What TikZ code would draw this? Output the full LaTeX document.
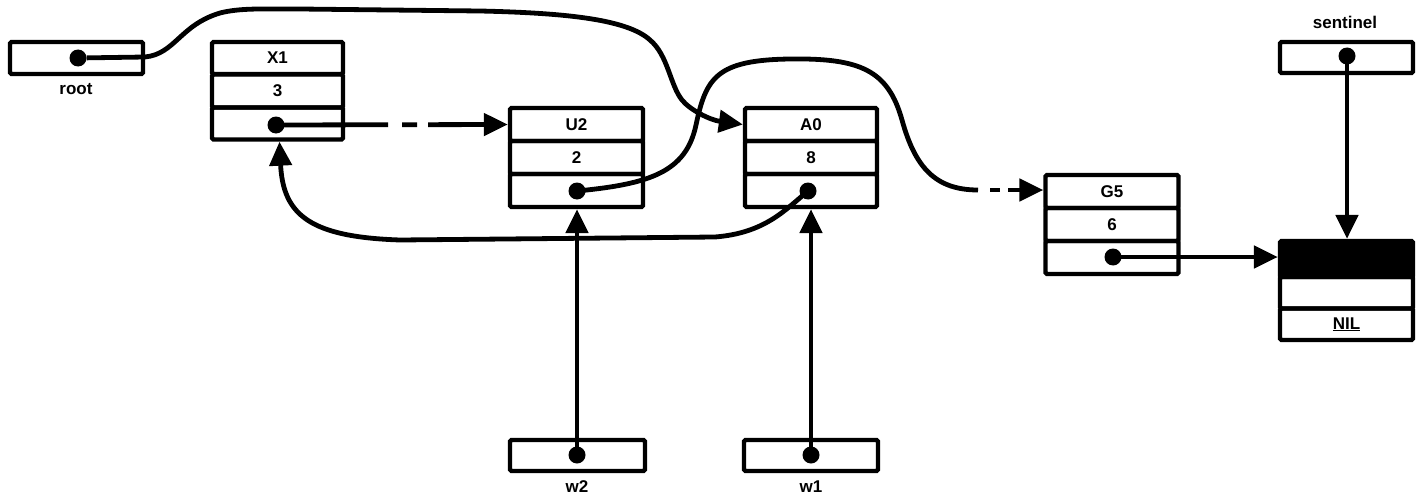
\documentclass[tikz,border=0pt]{standalone}
\usepackage{fontspec}
\setmainfont{Liberation Sans}
\usetikzlibrary{arrows.meta}
\begin{document}
\begin{tikzpicture}[x=1pt,y=-1pt,
  cell/.style={draw, line width=4.3pt, rounded corners=1.5pt, minimum width=133pt,
    minimum height=33pt, inner sep=0pt, font=\bfseries\fontsize{17}{20}\selectfont},
  lbl/.style={inner sep=0pt, font=\bfseries\fontsize{17}{20}\selectfont},
  dotc/.style={circle, fill=black, inner sep=0pt, minimum size=17pt},
  ptr/.style={line width=4.8pt, -{Triangle[length=24pt,width=22pt]}},
  wire/.style={line width=4.8pt}]
\useasboundingbox (0,0) rectangle (1423,495);
% root
\node[cell, minimum height=32pt] (root) at (76.5,58) {};
\node[lbl] (rootl) at (76,89) {root};
\node[dotc] (rootdot) at (78,58) {};
% X1
\node[cell, minimum width=131pt, minimum height=32pt] (X1a) at (277.5,58) {X1};
\node[cell, minimum width=131pt, minimum height=33pt] (X1b) at (277.5,91) {3};
\node[cell, minimum width=131pt, minimum height=32pt] (X1c) at (277.5,123.5) {};
\node[dotc] (X1dot) at (276,125) {};
% U2
\node[cell] (U2a) at (576.5,124.5) {U2};
\node[cell] (U2b) at (576.5,157.5) {2};
\node[cell] (U2c) at (576.5,190.5) {};
\node[dotc] (U2dot) at (577,191) {};
% A0
\node[cell, minimum width=132pt] (A0a) at (811,124.5) {A0};
\node[cell, minimum width=132pt] (A0b) at (811,157.5) {8};
\node[cell, minimum width=132pt] (A0c) at (811,190.5) {};
\node[dotc] (A0dot) at (808,191) {};
% G5
\node[cell] (G5a) at (1112,191.5) {G5};
\node[cell] (G5b) at (1112,224.5) {6};
\node[cell] (G5c) at (1112,257.5) {};
\node[dotc] (G5dot) at (1113,257) {};
% sentinel
\node[cell, minimum height=31pt] (sent) at (1346.5,57.5) {};
\node[lbl] (sentl) at (1345,22) {sentinel};
\node[dotc] (sdot) at (1347,56) {};
% NIL node
\node[cell, fill=black, minimum height=36pt] (NILa) at (1346.5,259) {};
\node[cell, minimum height=31.5pt] (NILb) at (1346.5,292.75) {};
\node[cell, minimum height=31.5pt] (NILc) at (1346.5,324.25) {\underline{NIL}};
% w2, w1
\node[cell, minimum width=135pt, minimum height=31pt] (w2) at (577.5,455.5) {};
\node[lbl] (w2l) at (577,487) {w2};
\node[dotc] (w2dot) at (577,455) {};
\node[cell, minimum width=134pt, minimum height=31pt] (w1) at (811,455.5) {};
\node[lbl] (w1l) at (811,487) {w1};
\node[dotc] (w1dot) at (811,455) {};
\coordinate (g1) at (978,190);
% connectors
\draw[ptr] (rootdot) -- (145,57) .. controls (175,54) and (180,25) .. (220,13)
  .. controls (240,8) and (260,9) .. (300,9) -- (480,11)
  .. controls (570,13) and (628,20) .. (650,40)
  .. controls (668,55) and (670,85) .. (682,100)
  .. controls (690,110) and (710,120) .. (A0a.west);
\draw[ptr, dash pattern=on 112pt off 14pt on 15pt off 11pt on 400pt] (X1dot.center) -- (U2a.west);
\draw[wire] (U2dot.center) .. controls (650,184) and (686,172) .. (696,125)
  .. controls (706,78) and (716,60) .. (790,59)
  .. controls (860,58) and (888,70) .. (902,120)
  .. controls (915,167) and (935,190) .. (g1);
\draw[ptr, dash pattern=on 0pt off 12pt on 10pt off 8pt on 200pt] (g1) -- (G5a.west |- g1);
\draw[ptr] (A0dot.center) .. controls (785,210) and (765,233) .. (715,237) -- (400,240)
  .. controls (310,237) and (283,215) .. ([xshift=2pt]X1c.south);
\draw[ptr] (G5dot.center) -- (NILa.west |- G5dot);
\draw[ptr] (sdot.center) -- (sdot |- NILa.north);
\draw[ptr] (w2dot.center) -- (w2dot |- U2c.south);
\draw[ptr] (w1dot.center) -- (w1dot |- A0c.south);
\end{tikzpicture}
\end{document}
